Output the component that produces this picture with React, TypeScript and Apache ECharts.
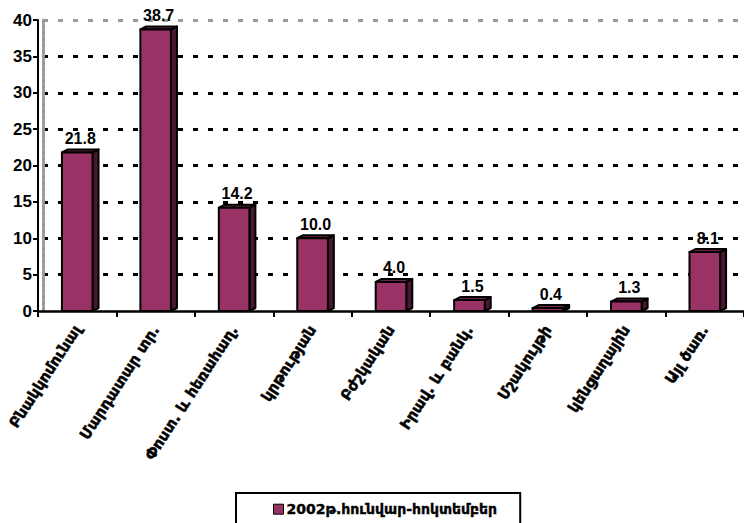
import React, { useEffect, useRef } from "react";
import * as echarts from "echarts";

const categories = [
  "Բնակկոմունալ",
  "Մարդատար տր.",
  "Փոստ. և հեռահաղ.",
  "կրթության",
  "Բժշկական",
  "Իրավ. և բանկ.",
  "Մշակույթի",
  "կենցաղային",
  "Այլ ծառ.",
];
const values = [21.8, 38.7, 14.2, 10.0, 4.0, 1.5, 0.4, 1.3, 8.1];
const valueLabels = ["21.8", "38.7", "14.2", "10.0", "4.0", "1.5", "0.4", "1.3", "8.1"];
const seriesName = "2002թ.հունվար-հոկտեմբեր";
const yMin = 0;
const yMax = 40;
const yInterval = 5;

const FONT = "'Liberation Sans', Arial, 'DejaVu Sans', sans-serif";
const ARM = "'DejaVu Sans', sans-serif";
const BAR = "#993366";
const SIDE = "#4a1631";
const TOP = "#6e2548";

export default function App() {
  const ref = useRef<HTMLDivElement>(null);
  useEffect(() => {
    if (!ref.current) return;
    const chart = echarts.init(ref.current, null, { renderer: "svg" });
    const gridColors = ["rgba(0,0,0,0)"];
    for (let v = yMin + yInterval; v < yMax; v += yInterval) gridColors.push("#000");
    gridColors.push("#999");
    const gridTop = 20;
    const gridBottom = 212;
    chart.setOption({
      animation: false,
      backgroundColor: "#fff",
      grid: [
        { left: 38, width: 710, top: gridTop, bottom: gridBottom, containLabel: false },
        { left: 43, width: 705, top: gridTop, bottom: gridBottom, containLabel: false },
      ],
      legend: {
        left: 236,
        top: 493,
        orient: "horizontal",
        padding: [9, 23, 20, 37],
        borderColor: "#000",
        borderWidth: 2,
        itemWidth: 10,
        itemHeight: 10,
        itemGap: 4,
        textStyle: {
          fontFamily: ARM,
          fontWeight: "bold",
          fontSize: 14,
          color: "#000",
          padding: [0, 0, 0, -2],
          textBorderColor: "#000",
          textBorderWidth: 0.4,
        },
        data: [
          {
            name: seriesName,
            icon: "rect",
            itemStyle: { color: BAR, borderColor: "#000", borderWidth: 1 },
          },
        ],
      },
      xAxis: [
        {
          type: "category",
          gridIndex: 0,
          data: categories,
          boundaryGap: true,
          axisLine: { lineStyle: { color: "#000", width: 2.5 } },
          axisTick: { show: true, interval: 0, length: 6, lineStyle: { color: "#000", width: 2 } },
          axisLabel: {
            interval: 0,
            rotate: 57,
            margin: 16,
            color: "#000",
            fontFamily: ARM,
            fontWeight: "bold",
            fontSize: 15,
            textBorderColor: "#000",
            textBorderWidth: 0.5,
          },
          splitLine: { show: false },
        },
        {
          type: "category",
          gridIndex: 1,
          data: categories,
          show: false,
        },
      ],
      yAxis: [
        {
          type: "value",
          gridIndex: 0,
          min: yMin,
          max: yMax,
          interval: yInterval,
          axisLine: { show: true, lineStyle: { color: "#000", width: 2 } },
          axisTick: { show: true, length: 5, lineStyle: { color: "#000", width: 2 } },
          axisLabel: {
            margin: 6,
            color: "#000",
            fontFamily: FONT,
            fontWeight: "bold",
            fontSize: 17,
          },
          splitLine: { show: false },
        },
        {
          type: "value",
          gridIndex: 1,
          min: yMin,
          max: yMax,
          interval: yInterval,
          axisLine: { show: true, lineStyle: { color: "#999", width: 3, type: [4, 2] } },
          axisTick: { show: false },
          axisLabel: { show: false },
          splitLine: {
            show: true,
            lineStyle: { color: gridColors, width: 3, type: [5, 10] },
          },
        },
      ],
      series: [
        {
          name: "grid",
          type: "line",
          xAxisIndex: 1,
          yAxisIndex: 1,
          data: [],
          silent: true,
        },
        {
          name: seriesName,
          type: "custom",
          xAxisIndex: 0,
          yAxisIndex: 0,
          itemStyle: { color: BAR },
          encode: { x: 0, y: 1 },
          data: values.map((v, i) => [i, v]),
          renderItem: (params: any, api: any) => {
            const idx = api.value(0);
            const v = api.value(1);
            const base = api.coord([idx, 0]);
            const top = api.coord([idx, v]);
            const bw = api.size([1, 0])[0] * 0.39;
            const x0 = base[0] - bw / 2;
            const x1 = base[0] + bw / 2;
            const dx = 6;
            const dy = 3;
            const yt = top[1];
            const yb = base[1];
            const stroke = { stroke: "#000", lineWidth: 2, lineJoin: "round" };
            return {
              type: "group",
              children: [
                {
                  type: "polygon",
                  shape: { points: [[x1, yt], [x1 + dx, yt - dy], [x1 + dx, yb - dy], [x1, yb]] },
                  style: { fill: SIDE, ...stroke },
                },
                {
                  type: "polygon",
                  shape: { points: [[x0, yt], [x0 + dx, yt - dy], [x1 + dx, yt - dy], [x1, yt]] },
                  style: { fill: TOP, ...stroke },
                },
                {
                  type: "rect",
                  shape: { x: x0, y: yt, width: bw, height: yb - yt },
                  style: { fill: BAR, ...stroke },
                },
                {
                  type: "text",
                  style: {
                    x: base[0] + 3,
                    y: yt - 14,
                    text: valueLabels[params.dataIndex],
                    fill: "#000",
                    font: `bold 16px ${FONT}`,
                    align: "center",
                    verticalAlign: "middle",
                  },
                },
              ],
            };
          },
        },
      ],
    });
    return () => chart.dispose();
  }, []);
  return (
    <div
      ref={ref}
      style={{ position: "absolute", left: 0, top: 0, width: 744, height: 523, overflow: "hidden" }}
    />
  );
}
